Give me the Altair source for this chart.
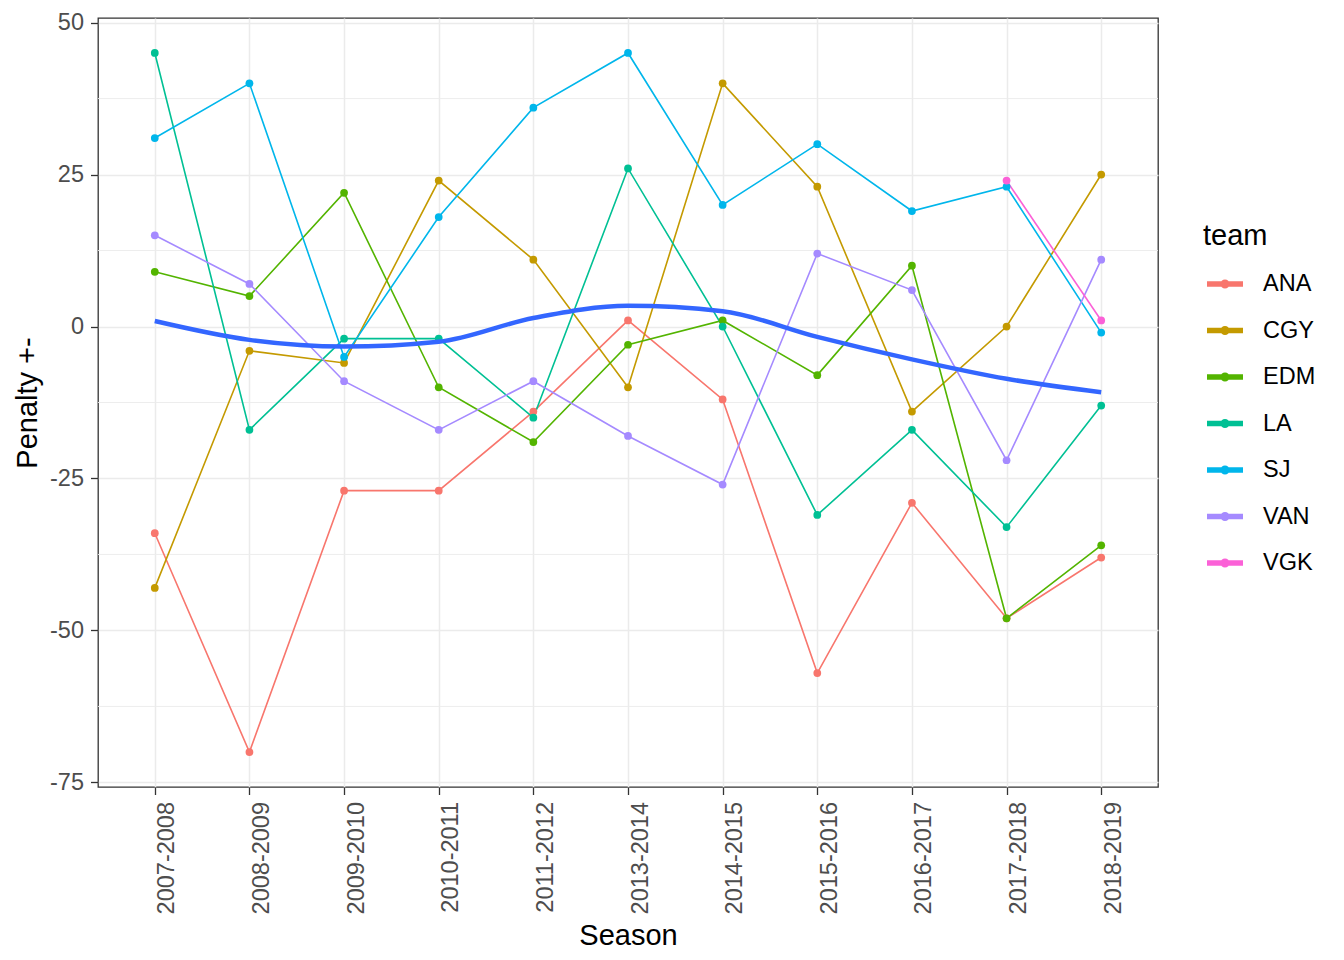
import altair as alt
import pandas as pd

seasons = ["2007-2008", "2008-2009", "2009-2010", "2010-2011", "2011-2012",
           "2013-2014", "2014-2015", "2015-2016", "2016-2017", "2017-2018", "2018-2019"]
teams = ["ANA", "CGY", "EDM", "LA", "SJ", "VAN", "VGK"]
colors = ["#F8766D", "#C49A00", "#53B400", "#00C094", "#00B6EB", "#A58AFF", "#FB61D7"]

ana = [-34, -70, -27, -27, -14, 1, -12, -57, -29, -48, -38]
cgy = [-43, -4, -6, 24, 11, -10, 40, 23, -14, 0, 25]
edm = [9, 5, 22, -10, -19, -3, 1, -8, 10, -48, -36]
la = [45, -17, -2, -2, -15, 26, 0, -31, -17, -33, -13]
sj = [31, 40, -5, 18, 36, 45, 20, 30, 19, 23, -1]
van = [15, 7, -9, -17, -9, -18, -26, 12, 6, -22, 11]
vgk = [None, None, None, None, None, None, None, None, None, 24, 1]

# smooth (loess) curve read at each season
smooth = [0.9, -2.2, -3.3, -2.5, 1.4, 3.4, 2.5, -1.7, -5.4, -8.6, -10.8]

major_ticks = [-75, -50, -25, 0, 25, 50]
minor_ticks = [-62.5, -37.5, -12.5, 12.5, 37.5]

rows = []
for team, vals in zip(teams, [ana, cgy, edm, la, sj, van, vgk]):
    for s, v in zip(seasons, vals):
        if v is not None:
            rows.append({"season": s, "team": team, "penalty": v})
df = pd.DataFrame(rows)
df_smooth = pd.DataFrame({"season": seasons, "penalty": smooth})
df_minor = pd.DataFrame({"penalty": minor_ticks})

FONT = "Liberation Sans"

x_enc = alt.X(
    "season:O", sort=seasons, title="Season",
    scale=alt.Scale(type="point", padding=0.6),
    axis=alt.Axis(labelAngle=270, labelAlign="right", labelBaseline="top",
                  labelFontSize=23.5, labelColor="#4D4D4D", labelPadding=7,
                  tickSize=7.5, tickColor="#333333", tickWidth=1.3,
                  domain=False, grid=True, gridColor="#EBEBEB", gridWidth=1.5,
                  titleFontSize=29, titleFontWeight="normal", titleColor="black",
                  titlePadding=8, labelFont=FONT, titleFont=FONT)
)
y_enc = alt.Y(
    "penalty:Q", title="Penalty +-",
    scale=alt.Scale(domain=[-75.75, 50.75], nice=False, zero=False),
    axis=alt.Axis(values=major_ticks, labelExpr="'' + datum.value",
                  labelFontSize=23.5, labelColor="#4D4D4D",
                  labelPadding=7, tickSize=7.5, tickColor="#333333", tickWidth=1.3,
                  domain=False, grid=True, gridColor="#EBEBEB", gridWidth=1.5,
                  titleFontSize=29, titleFontWeight="normal", titleColor="black",
                  titlePadding=7, labelFont=FONT, titleFont=FONT)
)

legend_path = "M-1,0H1M-0.1,0A0.1,0.1 0 1,1 0.1,0A0.1,0.1 0 1,1 -0.1,0"
color_enc = alt.Color(
    "team:N", sort=teams,
    scale=alt.Scale(domain=teams, range=colors),
    legend=alt.Legend(title="team", orient="none", legendX=1105, legendY=204,
                      padding=0, symbolType=legend_path, symbolSize=1296,
                      symbolStrokeWidth=5.5, symbolOffset=1,
                      labelFontSize=23.5, labelFont=FONT, labelColor="black",
                      labelOffset=17, titleFontSize=29, titleFont=FONT,
                      titleFontWeight="normal", titleColor="black",
                      titlePadding=12, rowPadding=12.5)
)

minor = alt.Chart(df_minor).mark_rule(color="#EBEBEB", strokeWidth=0.9).encode(
    y=alt.Y("penalty:Q")
)

lines = alt.Chart(df).mark_line(strokeWidth=1.6).encode(
    x=x_enc, y=y_enc, color=color_enc, detail="team:N"
)
points = alt.Chart(df).mark_point(filled=True, size=60, opacity=1).encode(
    x=x_enc, y=y_enc, color=color_enc
)
smooth_line = alt.Chart(df_smooth).mark_line(
    color="#3366FF", strokeWidth=4.5, interpolate="monotone"
).encode(x=x_enc, y=y_enc)

chart = alt.layer(minor, lines, points, smooth_line).properties(
    width=1060, height=769,
    autosize=alt.AutoSizeParams(type="none"),
    padding={"left": 90, "top": 10, "right": 178, "bottom": 165},
).configure(
    font=FONT, background="white",
    view=alt.ViewConfig(stroke="#333333", strokeWidth=1.3),
)

chart.save("out.html", embed_options={"renderer": "svg", "actions": False})
